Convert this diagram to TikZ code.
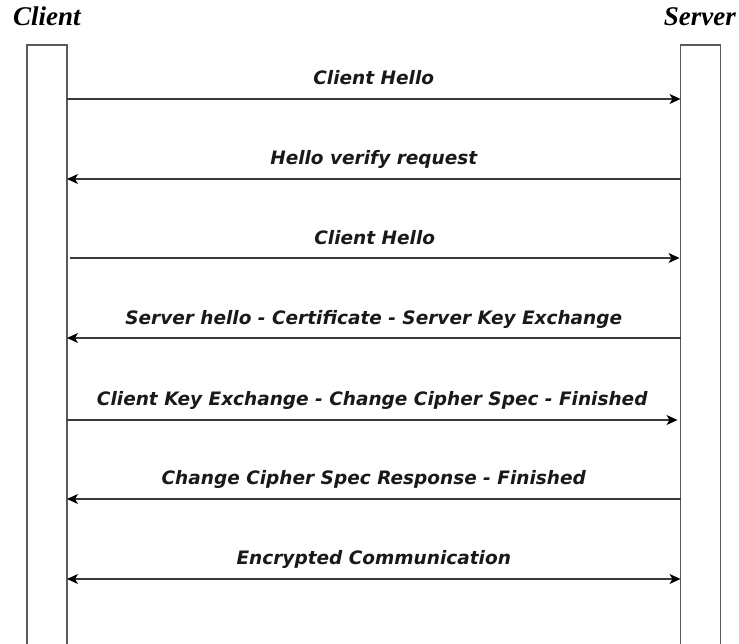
\documentclass[tikz,border=0pt]{standalone}
\usepackage{fontspec}
\setmainfont{Liberation Serif}
\newfontfamily\lblfont{DejaVu Sans}
\usetikzlibrary{arrows.meta}
\definecolor{boxgray}{HTML}{5A5A5A}
\definecolor{linegray}{HTML}{3A3A3A}
\tikzset{
  lifeline/.style={draw=boxgray, line width=1.3bp, fill=white, minimum width=40bp, minimum height=620bp, anchor=north west, inner sep=0pt, outer sep=0pt},
  party/.style={font=\fontsize{27bp}{30bp}\selectfont\bfseries\itshape, inner sep=0pt, anchor=base},
  msg/.style={font=\lblfont\fontsize{18.5bp}{21bp}\selectfont\bfseries\itshape, inner sep=0pt, anchor=base, text=black!90},
  tiphead/.tip={Stealth[length=11bp,width=10bp,inset=3bp,color=black]},
  msgline/.style={draw=linegray, line width=1.2bp, -tiphead},
  bimsgline/.style={draw=linegray, line width=1.2bp, tiphead-tiphead}
}
\begin{document}
\begin{tikzpicture}[x=1bp,y=-1bp]
\useasboundingbox (0,0) rectangle (739,644);
\clip (0,0) rectangle (739,644);
\node[party, anchor=base west] (clientlbl) at (13,26) {Client};
\node[party, anchor=base east] (serverlbl) at (736,26) {Server};
\node[lifeline] (client) at (27,45) {};
\node[lifeline] (server) at (680.5,45) {};
% message rows
\coordinate (r1) at (0,99);
\coordinate (r2) at (0,179);
\coordinate (r3) at (0,258);
\coordinate (r4) at (0,338);
\coordinate (r5) at (0,420);
\coordinate (r6) at (0,499);
\coordinate (r7) at (0,579);
\draw[msgline] (client.east |- r1) -- (server.west |- r1) node[msg, pos=0.5, yshift=14bp] (m1) {Client Hello};
\draw[msgline] (server.west |- r2) -- (client.east |- r2) node[msg, pos=0.5, yshift=14bp] (m2) {Hello verify request};
\draw[msgline] ([xshift=3bp]client.east |- r3) -- ([xshift=-1bp]server.west |- r3) node[msg, pos=0.5, yshift=14bp] (m3) {Client Hello};
\draw[msgline] (server.west |- r4) -- (client.east |- r4) node[msg, pos=0.5, yshift=14bp] (m4) {Server hello - Certificate - Server Key Exchange};
\draw[msgline] (client.east |- r5) -- ([xshift=-3bp]server.west |- r5) node[msg, pos=0.5, yshift=15bp] (m5) {Client Key Exchange - Change Cipher Spec - Finished};
\draw[msgline] (server.west |- r6) -- (client.east |- r6) node[msg, pos=0.5, yshift=15bp] (m6) {Change Cipher Spec Response - Finished};
\draw[bimsgline] (client.east |- r7) -- (server.west |- r7) node[msg, pos=0.5, yshift=15bp] (m7) {Encrypted Communication};
\end{tikzpicture}
\end{document}
